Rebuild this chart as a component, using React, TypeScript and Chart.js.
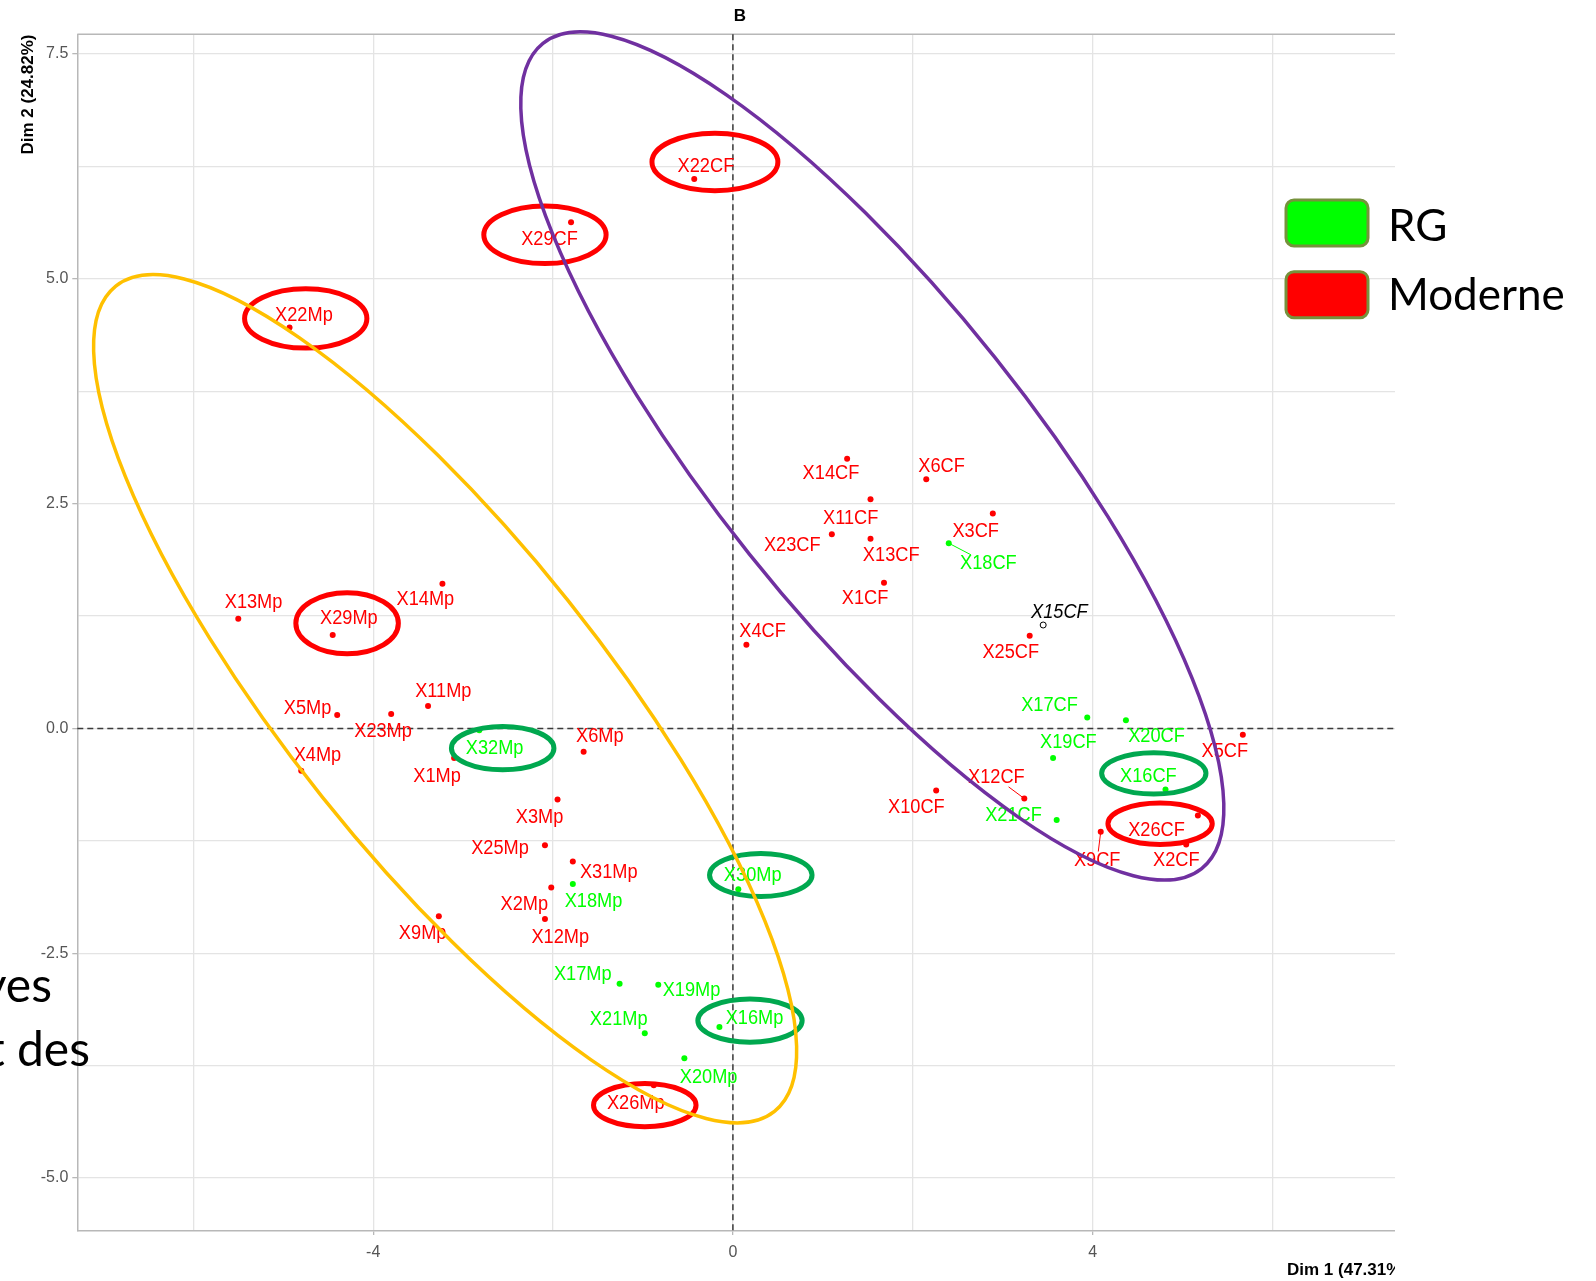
import React, { useEffect, useRef } from "react";
import { Chart, registerables } from "chart.js";

Chart.register(...registerables);

// ---------- data (PCA individuals, Dim 1 / Dim 2) ----------
const modernNames = ["X22CF","X29CF","X22Mp","X13Mp","X29Mp","X14Mp","X14CF","X6CF","X11CF","X3CF","X23CF","X13CF","X1CF","X25CF","X4CF","X5CF","X10CF","X12CF","X26CF","X9CF","X2CF","X5Mp","X23Mp","X11Mp","X1Mp","X4Mp","X6Mp","X3Mp","X25Mp","X31Mp","X2Mp","X12Mp","X9Mp","X26Mp"];
const modernX = [-0.43,-1.80,-4.93,-5.50,-4.45,-3.23,1.27,2.15,1.53,2.89,1.10,1.53,1.68,3.30,0.15,5.67,2.26,3.24,5.17,4.09,5.04,-4.40,-3.80,-3.39,-3.10,-4.80,-1.66,-1.95,-2.09,-1.78,-2.02,-2.09,-3.27,-0.88];
const modernY = [6.11,5.63,4.46,1.22,1.04,1.61,3.00,2.77,2.55,2.39,2.16,2.11,1.62,1.03,0.93,-0.07,-0.69,-0.78,-0.97,-1.15,-1.29,0.15,0.16,0.25,-0.33,-0.47,-0.26,-0.79,-1.30,-1.48,-1.77,-2.12,-2.09,-3.97];
const modernLabelX = [-0.30,-2.04,-4.77,-5.33,-4.27,-3.42,1.09,2.32,1.31,2.70,0.66,1.76,1.47,3.09,0.33,5.47,2.04,2.93,4.71,4.05,4.93,-4.73,-3.89,-3.22,-3.29,-4.62,-1.48,-2.15,-2.59,-1.38,-2.32,-1.92,-3.45,-1.08];
const modernLabelY = [6.25,5.44,4.59,1.40,1.22,1.43,2.83,2.91,2.34,2.19,2.03,1.92,1.44,0.84,1.08,-0.26,-0.88,-0.55,-1.13,-1.47,-1.47,0.22,-0.03,0.41,-0.53,-0.30,-0.09,-0.99,-1.34,-1.60,-1.96,-2.33,-2.28,-4.17];

const rgNames = ["X18CF","X17CF","X20CF","X19CF","X16CF","X21CF","X32Mp","X18Mp","X30Mp","X17Mp","X19Mp","X21Mp","X16Mp","X20Mp"];
const rgX = [2.40,3.94,4.37,3.56,4.81,3.60,-2.82,-1.78,0.06,-1.26,-0.83,-0.98,-0.15,-0.54];
const rgY = [2.06,0.12,0.09,-0.33,-0.68,-1.02,-0.02,-1.73,-1.79,-2.84,-2.85,-3.39,-3.32,-3.67];
const rgLabelX = [2.84,3.52,4.71,3.73,4.62,3.12,-2.65,-1.55,0.22,-1.67,-0.46,-1.27,0.24,-0.27];
const rgLabelY = [1.83,0.25,-0.09,-0.16,-0.54,-0.97,-0.22,-1.92,-1.64,-2.74,-2.91,-3.24,-3.23,-3.88];

const supNames = ["X15CF"];
const supX = [3.45];
const supY = [1.15];
const supLabelX = [3.63];
const supLabelY = [1.29];

// labels joined to their point by a repel segment
const segmentLabels = ["X18CF", "X12CF", "X9CF"];

// axes
const xMin = -7.29, xMax = 7.64, yMin = -5.59, yMax = 7.72;
const xGridValues = [-6, -4, -2, 0, 2, 4, 6];
const xTickValues = [-4, 0, 4];
const xTickLabels = ["-4", "0", "4"];
const yGridValues = [7.5, 6.25, 5, 3.75, 2.5, 1.25, 0, -1.25, -2.5, -3.75, -5];
const yTickValues = [7.5, 5, 2.5, 0, -2.5, -5];
const yTickLabels = ["7.5", "5.0", "2.5", "0.0", "-2.5", "-5.0"];

// highlight ellipses (data units)
const highlightCX = [-0.20, -2.09, -4.75, -4.29, -2.56, 0.31, 0.19, -0.98, 4.68, 4.75];
const highlightCY = [6.30, 5.49, 4.56, 1.17, -0.22, -1.63, -3.25, -4.19, -0.50, -1.06];
const highlightRX = [0.70, 0.68, 0.68, 0.57, 0.57, 0.57, 0.58, 0.57, 0.58, 0.58];
const highlightRY = [0.32, 0.32, 0.33, 0.34, 0.24, 0.24, 0.24, 0.24, 0.23, 0.23];
const highlightGroup = ["Moderne","Moderne","Moderne","Moderne","RG","RG","RG","Moderne","RG","Moderne"];

// group ellipses (data units)
const groupCX = [-3.20, 1.55];
const groupCY = [0.33, 3.03];
const groupA = [5.87, 5.87];
const groupB = [1.75, 1.75];
const groupAngleDeg = [51.4, 51.4];

const legendLabels = ["RG", "Moderne"];

// ---------- styles ----------
const RED = "#FF0000";
const GREEN = "#00FF00";
const HL_GREEN = "#00A84F";
const GROUP_COLORS = ["#FFC000", "#7030A0"];
const GRID = "#E4E4E4";
const AXIS = "#B8B8B8";
const LABEL_FONT = "20px 'Liberation Sans', Arial, sans-serif";
const SQUEEZE = 0.91;

function squeezedText(ctx: CanvasRenderingContext2D, text: string, x: number, y: number, sx: number) {
  ctx.save();
  ctx.translate(x, y);
  ctx.scale(sx, 1);
  ctx.fillText(text, 0, 0);
  ctx.restore();
}

export default function App() {
  const ref = useRef<HTMLCanvasElement | null>(null);

  useEffect(() => {
    const canvas = ref.current;
    if (!canvas) return;

    const decorPlugin = {
      id: "decor",
      beforeDatasetsDraw(chart: any) {
        const { ctx, chartArea, scales } = chart;
        const xs = scales.x, ys = scales.y;
        ctx.save();
        // top panel border
        ctx.strokeStyle = AXIS;
        ctx.lineWidth = 1.5;
        ctx.beginPath();
        ctx.moveTo(chartArea.left, chartArea.top);
        ctx.lineTo(chartArea.right, chartArea.top);
        ctx.stroke();
        // dashed zero lines
        ctx.strokeStyle = "#3a3a3a";
        ctx.lineWidth = 1.5;
        ctx.setLineDash([6, 4]);
        const y0 = ys.getPixelForValue(0);
        const x0 = xs.getPixelForValue(0);
        ctx.beginPath();
        ctx.moveTo(chartArea.left, y0);
        ctx.lineTo(chartArea.right, y0);
        ctx.moveTo(x0, chartArea.top);
        ctx.lineTo(x0, chartArea.bottom);
        ctx.stroke();
        ctx.restore();
      },
      afterDatasetsDraw(chart: any) {
        const { ctx, scales } = chart;
        const xs = scales.x, ys = scales.y;
        ctx.save();
        ctx.font = LABEL_FONT;
        ctx.textAlign = "center";
        ctx.textBaseline = "middle";
        const groups = [
          { names: modernNames, px: modernX, py: modernY, lx: modernLabelX, ly: modernLabelY, color: RED, italic: false },
          { names: rgNames, px: rgX, py: rgY, lx: rgLabelX, ly: rgLabelY, color: GREEN, italic: false },
          { names: supNames, px: supX, py: supY, lx: supLabelX, ly: supLabelY, color: "#000000", italic: true },
        ];
        for (const g of groups) {
          ctx.font = (g.italic ? "italic " : "") + LABEL_FONT;
          for (let i = 0; i < g.names.length; i++) {
            const px = xs.getPixelForValue(g.px[i]);
            const py = ys.getPixelForValue(g.py[i]);
            const lx = xs.getPixelForValue(g.lx[i]);
            const ly = ys.getPixelForValue(g.ly[i]);
            if (segmentLabels.includes(g.names[i])) {
              const hw = (ctx.measureText(g.names[i]).width * SQUEEZE) / 2 + 1;
              const hh = 9;
              const dx = lx - px, dy = ly - py;
              const f = Math.min(Math.abs(dx) > 0 ? hw / Math.abs(dx) : 99, Math.abs(dy) > 0 ? hh / Math.abs(dy) : 99);
              const t = 1 - f;
              if (t > 0) {
                ctx.strokeStyle = g.color;
                ctx.lineWidth = 1;
                ctx.beginPath();
                ctx.moveTo(px, py);
                ctx.lineTo(px + dx * t, py + dy * t);
                ctx.stroke();
              }
            }
            ctx.fillStyle = g.color;
            squeezedText(ctx, g.names[i], lx, ly, SQUEEZE);
          }
        }
        ctx.restore();
      },
      afterDraw(chart: any) {
        const { ctx, scales } = chart;
        const xs = scales.x, ys = scales.y;
        const k = Math.abs(xs.getPixelForValue(1) - xs.getPixelForValue(0));
        const ky = Math.abs(ys.getPixelForValue(1) - ys.getPixelForValue(0));
        ctx.save();
        // highlight ellipses
        ctx.lineWidth = 5;
        for (let i = 0; i < highlightCX.length; i++) {
          ctx.strokeStyle = highlightGroup[i] === "RG" ? HL_GREEN : RED;
          ctx.beginPath();
          ctx.ellipse(
            xs.getPixelForValue(highlightCX[i]),
            ys.getPixelForValue(highlightCY[i]),
            highlightRX[i] * k,
            highlightRY[i] * ky,
            0, 0, Math.PI * 2
          );
          ctx.stroke();
        }
        // group ellipses
        ctx.lineWidth = 3.5;
        for (let i = 0; i < groupCX.length; i++) {
          ctx.strokeStyle = GROUP_COLORS[i];
          ctx.beginPath();
          ctx.ellipse(
            xs.getPixelForValue(groupCX[i]),
            ys.getPixelForValue(groupCY[i]),
            groupA[i] * k,
            groupB[i] * ky,
            (groupAngleDeg[i] * Math.PI) / 180,
            0, Math.PI * 2
          );
          ctx.stroke();
        }

        // axis titles and plot title
        ctx.fillStyle = "#000000";
        ctx.font = "bold 17px 'Liberation Sans', Arial, sans-serif";
        ctx.textAlign = "center";
        ctx.textBaseline = "middle";
        ctx.fillText("B", 740, 16.5);
        ctx.save();
        ctx.translate(28, 94.5);
        ctx.rotate(-Math.PI / 2);
        ctx.fillText("Dim 2 (24.82%)", 0, 0);
        ctx.restore();
        ctx.textAlign = "left";
        ctx.textBaseline = "alphabetic";
        ctx.fillText("Dim 1 (47.31%)", 1287, 1275);

        // crop of the pasted picture
        ctx.fillStyle = "#FFFFFF";
        ctx.fillRect(1395, 0, chart.width - 1395, chart.height);

        // slide legend
        const boxY = [200, 271.7];
        const boxFill = [GREEN, RED];
        const textY = [240.5, 310];
        for (let i = 0; i < legendLabels.length; i++) {
          ctx.beginPath();
          ctx.roundRect(1286, boxY[i], 82, 46, 8);
          ctx.fillStyle = boxFill[i];
          ctx.fill();
          ctx.strokeStyle = "#76923C";
          ctx.lineWidth = 3;
          ctx.stroke();
          ctx.fillStyle = "#000000";
          ctx.font = "44px Lato, 'Open Sans', sans-serif";
          ctx.textAlign = "left";
          ctx.textBaseline = "alphabetic";
          ctx.fillText(legendLabels[i], 1388, textY[i]);
        }

        // fragments of slide text cut at the left edge
        ctx.fillStyle = "#000000";
        ctx.font = "48px Lato, 'Open Sans', sans-serif";
        ctx.textAlign = "right";
        ctx.fillText("yes", 52, 1002);
        ctx.fillText("et des", 90, 1066);
        ctx.restore();
      },
    };

    const chart = new Chart(canvas, {
      type: "scatter",
      data: {
        datasets: [
          {
            label: "Moderne",
            data: modernX.map((x, i) => ({ x, y: modernY[i] })),
            backgroundColor: RED,
            borderWidth: 0,
            pointRadius: 3,
          },
          {
            label: "RG",
            data: rgX.map((x, i) => ({ x, y: rgY[i] })),
            backgroundColor: GREEN,
            borderWidth: 0,
            pointRadius: 3,
          },
          {
            label: "sup",
            data: supX.map((x, i) => ({ x, y: supY[i] })),
            backgroundColor: "#FFFFFF",
            borderColor: "#000000",
            borderWidth: 1,
            pointRadius: 3,
          },
        ],
      },
      options: {
        responsive: false,
        maintainAspectRatio: false,
        devicePixelRatio: 1,
        animation: false,
        layout: { padding: { left: 37.3, top: 34.3, right: 1596 - 1420, bottom: 10 } },
        plugins: { legend: { display: false }, tooltip: { enabled: false } },
        scales: {
          x: {
            type: "linear",
            min: xMin,
            max: xMax,
            afterFit: (s: any) => { s.height = 40; },
            afterBuildTicks: (s: any) => { s.ticks = xGridValues.map((v) => ({ value: v })); },
            grid: {
              color: GRID,
              lineWidth: 1.3,
              drawTicks: true,
              tickLength: 4,
              tickColor: (c: any) => (xTickValues.includes(c.tick?.value) ? AXIS : "rgba(0,0,0,0)"),
            },
            border: { display: true, color: AXIS, width: 1.5 },
            ticks: {
              autoSkip: false,
              maxRotation: 0,
              padding: 8,
              color: "#555555",
              font: { family: "'Liberation Sans', Arial, sans-serif", size: 16 },
              callback: (v: any) => {
                const i = xTickValues.indexOf(Number(v));
                return i >= 0 ? xTickLabels[i] : "";
              },
            },
          },
          y: {
            type: "linear",
            min: yMin,
            max: yMax,
            afterFit: (s: any) => { s.width = 40; },
            afterBuildTicks: (s: any) => { s.ticks = yGridValues.map((v) => ({ value: v })); },
            grid: {
              color: GRID,
              lineWidth: 1.3,
              drawTicks: true,
              tickLength: 5,
              tickColor: (c: any) => (yTickValues.includes(c.tick?.value) ? AXIS : "rgba(0,0,0,0)"),
            },
            border: { display: true, color: AXIS, width: 1.5 },
            ticks: {
              autoSkip: false,
              padding: 4,
              color: "#555555",
              font: { family: "'Liberation Sans', Arial, sans-serif", size: 16 },
              callback: (v: any) => {
                const i = yTickValues.indexOf(Number(v));
                return i >= 0 ? yTickLabels[i] : "";
              },
            },
          },
        },
      },
      plugins: [decorPlugin],
    } as any);

    return () => chart.destroy();
  }, []);

  return (
    <div style={{ position: "absolute", left: 0, top: 0, width: 1596, height: 1281, background: "#FFFFFF" }}>
      <canvas ref={ref} width={1596} height={1281} style={{ display: "block", width: 1596, height: 1281 }} />
    </div>
  );
}
